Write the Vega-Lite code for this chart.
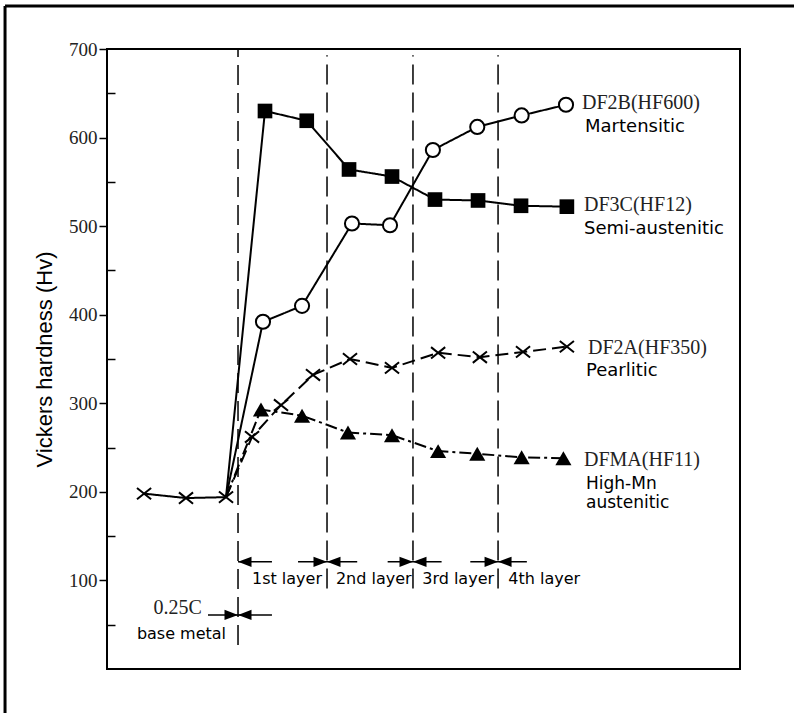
{
  "$schema": "https://vega.github.io/schema/vega-lite/v6.json",
  "width": 633,
  "height": 620,
  "autosize": "none",
  "padding": {"left": 107, "top": 49, "right": 54, "bottom": 44},
  "background": "white",
  "config": {
    "view": {"stroke": "black", "strokeWidth": 2},
    "axis": {"grid": false}
  },
  "datasets": {
    "pts": [
      {"s": "base", "x": -1.08, "y": 198, "m": "x"},
      {"s": "base", "x": -0.598, "y": 193, "m": "x"},
      {"s": "base", "x": -0.138, "y": 194, "m": "x"},
      {"s": "DF2B", "x": -0.138, "y": 194, "m": "none"},
      {"s": "DF2B", "x": 0.287, "y": 392, "m": "o"},
      {"s": "DF2B", "x": 0.736, "y": 410, "m": "o"},
      {"s": "DF2B", "x": 1.31, "y": 503, "m": "o"},
      {"s": "DF2B", "x": 1.747, "y": 501, "m": "o"},
      {"s": "DF2B", "x": 2.24, "y": 586, "m": "o"},
      {"s": "DF2B", "x": 2.75, "y": 612, "m": "o"},
      {"s": "DF2B", "x": 3.26, "y": 625, "m": "o"},
      {"s": "DF2B", "x": 3.77, "y": 637, "m": "o"},
      {"s": "DF3C", "x": -0.138, "y": 194, "m": "none"},
      {"s": "DF3C", "x": 0.31, "y": 630, "m": "sq"},
      {"s": "DF3C", "x": 0.79, "y": 619, "m": "sq"},
      {"s": "DF3C", "x": 1.276, "y": 564, "m": "sq"},
      {"s": "DF3C", "x": 1.77, "y": 556, "m": "sq"},
      {"s": "DF3C", "x": 2.264, "y": 530, "m": "sq"},
      {"s": "DF3C", "x": 2.759, "y": 529, "m": "sq"},
      {"s": "DF3C", "x": 3.253, "y": 523, "m": "sq"},
      {"s": "DF3C", "x": 3.78, "y": 522, "m": "sq"},
      {"s": "DF2A", "x": -0.138, "y": 194, "m": "none"},
      {"s": "DF2A", "x": 0.161, "y": 262, "m": "x"},
      {"s": "DF2A", "x": 0.494, "y": 298, "m": "x"},
      {"s": "DF2A", "x": 0.862, "y": 332, "m": "x"},
      {"s": "DF2A", "x": 1.287, "y": 350, "m": "x"},
      {"s": "DF2A", "x": 1.77, "y": 340, "m": "x"},
      {"s": "DF2A", "x": 2.3, "y": 357, "m": "x"},
      {"s": "DF2A", "x": 2.78, "y": 352, "m": "x"},
      {"s": "DF2A", "x": 3.276, "y": 358, "m": "x"},
      {"s": "DF2A", "x": 3.78, "y": 364, "m": "x"},
      {"s": "DFMA", "x": -0.138, "y": 194, "m": "none"},
      {"s": "DFMA", "x": 0.264, "y": 293, "m": "tri"},
      {"s": "DFMA", "x": 0.736, "y": 286, "m": "tri"},
      {"s": "DFMA", "x": 1.264, "y": 267, "m": "tri"},
      {"s": "DFMA", "x": 1.77, "y": 264, "m": "tri"},
      {"s": "DFMA", "x": 2.3, "y": 246, "m": "tri"},
      {"s": "DFMA", "x": 2.75, "y": 243, "m": "tri"},
      {"s": "DFMA", "x": 3.26, "y": 239, "m": "tri"},
      {"s": "DFMA", "x": 3.74, "y": 238, "m": "tri"}
    ],
    "vlines": [
      {"x": 0, "y1": 27, "y2": 700},
      {"x": 1.023, "y1": 91, "y2": 693},
      {"x": 2.011, "y1": 91, "y2": 693},
      {"x": 2.989, "y1": 91, "y2": 693}
    ],
    "segs": [
      {"x1": 0, "x2": 0.39, "y": 121},
      {"x1": 0.69, "x2": 1.37, "y": 121},
      {"x1": 1.72, "x2": 2.34, "y": 121},
      {"x1": 2.67, "x2": 3.32, "y": 121},
      {"x1": -0.345, "x2": 0.39, "y": 61}
    ],
    "heads": [
      {"x": 0, "y": 121, "d": "L"},
      {"x": 1.023, "y": 121, "d": "R"},
      {"x": 1.023, "y": 121, "d": "L"},
      {"x": 2.011, "y": 121, "d": "R"},
      {"x": 2.011, "y": 121, "d": "L"},
      {"x": 2.989, "y": 121, "d": "R"},
      {"x": 2.989, "y": 121, "d": "L"},
      {"x": 0, "y": 61, "d": "R"},
      {"x": 0, "y": 61, "d": "L"}
    ],
    "frame": [
      {"x1": -2.678, "x2": 6.391, "y1": 748.5, "y2": 748.5},
      {"x1": -2.678, "x2": -2.678, "y1": 748.5, "y2": -50}
    ],
    "serifText": [
      {"t": "DF2B(HF600)", "x": 3.954, "y": 639},
      {"t": "DF3C(HF12)", "x": 3.977, "y": 524},
      {"t": "DF2A(HF350)", "x": 4.023, "y": 362},
      {"t": "DFMA(HF11)", "x": 3.977, "y": 236}
    ],
    "sansText": [
      {"t": "Martensitic", "x": 3.989, "y": 612},
      {"t": "Semi-austenitic", "x": 3.977, "y": 497},
      {"t": "Pearlitic", "x": 4.0, "y": 336}
    ],
    "sansMulti": [
      {"t": ["High-Mn", "austenitic"], "x": 4.0, "y": 209}
    ],
    "layerText": [
      {"t": "1st layer", "x": 0.563, "y": 102},
      {"t": "2nd layer", "x": 1.56, "y": 102},
      {"t": "3rd layer", "x": 2.53, "y": 102},
      {"t": "4th layer", "x": 3.52, "y": 102},
      {"t": "base metal", "x": -0.65, "y": 40}
    ],
    "serifSmall": [
      {"t": "0.25C", "x": -0.695, "y": 69}
    ]
  },
  "encoding": {
    "x": {"type": "quantitative", "scale": {"domain": [-1.506, 5.77], "nice": false, "zero": false}, "axis": null},
    "y": {"type": "quantitative", "scale": {"domain": [0, 700], "nice": false, "zero": false}}
  },
  "layer": [
    {
      "data": {"name": "frame"},
      "mark": {"type": "rule", "color": "black", "strokeWidth": 3},
      "encoding": {
        "x": {"field": "x1", "type": "quantitative"},
        "x2": {"field": "x2"},
        "y": {"field": "y1", "type": "quantitative", "axis": {
          "values": [50, 100, 150, 200, 250, 300, 350, 400, 450, 500, 550, 600, 650, 700],
          "labelExpr": "datum.value % 100 === 0 ? datum.label : ''",
          "tickSize": {"condition": {"test": "datum.value % 100 === 0", "value": 8}, "value": -8},
          "tickColor": "black",
          "tickWidth": 1.5,
          "domain": false,
          "labelFont": "Liberation Serif",
          "labelFontSize": 19,
          "labelColor": "#222222",
          "labelPadding": 2,
          "title": "Vickers hardness (Hv)",
          "titleFont": "Liberation Sans",
          "titleFontSize": 22,
          "titleFontWeight": "normal",
          "titleColor": "black",
          "titlePadding": 12
        }},
        "y2": {"field": "y2"}
      }
    },
    {
      "data": {"name": "vlines"},
      "mark": {"type": "rule", "color": "black", "strokeWidth": 1.5, "strokeDash": [20, 8]},
      "encoding": {
        "x": {"field": "x", "type": "quantitative"},
        "y": {"field": "y1", "type": "quantitative"},
        "y2": {"field": "y2"}
      }
    },
    {
      "data": {"name": "segs"},
      "mark": {"type": "rule", "color": "black", "strokeWidth": 1.5},
      "encoding": {
        "x": {"field": "x1", "type": "quantitative"},
        "x2": {"field": "x2"},
        "y": {"field": "y", "type": "quantitative"}
      }
    },
    {
      "data": {"name": "heads"},
      "mark": {"type": "point", "filled": true, "color": "black", "opacity": 1, "size": 729},
      "encoding": {
        "x": {"field": "x", "type": "quantitative"},
        "y": {"field": "y", "type": "quantitative"},
        "shape": {"field": "d", "type": "nominal", "legend": null, "scale": {"domain": ["L", "R"], "range": ["M0,0L1,-0.38L1,0.38Z", "M0,0L-1,-0.38L-1,0.38Z"]}}
      }
    },
    {
      "data": {"name": "pts"},
      "mark": {"type": "line", "color": "black", "strokeWidth": 2},
      "encoding": {
        "x": {"field": "x", "type": "quantitative"},
        "y": {"field": "y", "type": "quantitative"},
        "detail": {"field": "s"},
        "strokeDash": {"field": "s", "type": "nominal", "legend": null, "scale": {"domain": ["base", "DF2B", "DF3C", "DF2A", "DFMA"], "range": [[1, 0], [1, 0], [1, 0], [13, 6], [12, 4, 3, 4]]}}
      }
    },
    {
      "data": {"name": "pts"},
      "transform": [{"filter": "datum.m === 'o'"}],
      "mark": {"type": "point", "shape": "circle", "filled": false, "fill": "white", "fillOpacity": 1, "stroke": "black", "strokeWidth": 2, "opacity": 1, "size": 200},
      "encoding": {
        "x": {"field": "x", "type": "quantitative"},
        "y": {"field": "y", "type": "quantitative"}
      }
    },
    {
      "data": {"name": "pts"},
      "transform": [{"filter": "datum.m === 'sq'"}],
      "mark": {"type": "point", "shape": "square", "filled": true, "color": "black", "opacity": 1, "size": 215},
      "encoding": {
        "x": {"field": "x", "type": "quantitative"},
        "y": {"field": "y", "type": "quantitative"}
      }
    },
    {
      "data": {"name": "pts"},
      "transform": [{"filter": "datum.m === 'tri'"}],
      "mark": {"type": "point", "shape": "triangle-up", "filled": true, "color": "black", "opacity": 1, "size": 260},
      "encoding": {
        "x": {"field": "x", "type": "quantitative"},
        "y": {"field": "y", "type": "quantitative"}
      }
    },
    {
      "data": {"name": "pts"},
      "transform": [{"filter": "datum.m === 'x'"}],
      "mark": {"type": "point", "shape": "M-1,-0.8L1,0.8M-1,0.8L1,-0.8", "filled": false, "stroke": "black", "strokeWidth": 2, "opacity": 1, "size": 200},
      "encoding": {
        "x": {"field": "x", "type": "quantitative"},
        "y": {"field": "y", "type": "quantitative"}
      }
    },
    {
      "data": {"name": "serifText"},
      "mark": {"type": "text", "align": "left", "baseline": "middle", "font": "Liberation Serif", "fontSize": 20, "color": "#222222"},
      "encoding": {
        "x": {"field": "x", "type": "quantitative"},
        "y": {"field": "y", "type": "quantitative"},
        "text": {"field": "t"}
      }
    },
    {
      "data": {"name": "sansText"},
      "mark": {"type": "text", "align": "left", "baseline": "middle", "font": "DejaVu Sans", "fontSize": 18, "color": "black"},
      "encoding": {
        "x": {"field": "x", "type": "quantitative"},
        "y": {"field": "y", "type": "quantitative"},
        "text": {"field": "t"}
      }
    },
    {
      "data": {"name": "sansMulti"},
      "mark": {"type": "text", "align": "left", "baseline": "middle", "font": "DejaVu Sans", "fontSize": 17, "lineHeight": 19, "color": "black"},
      "encoding": {
        "x": {"field": "x", "type": "quantitative"},
        "y": {"field": "y", "type": "quantitative"},
        "text": {"field": "t"}
      }
    },
    {
      "data": {"name": "layerText"},
      "mark": {"type": "text", "align": "center", "baseline": "middle", "font": "DejaVu Sans", "fontSize": 16, "color": "black"},
      "encoding": {
        "x": {"field": "x", "type": "quantitative"},
        "y": {"field": "y", "type": "quantitative"},
        "text": {"field": "t"}
      }
    },
    {
      "data": {"name": "serifSmall"},
      "mark": {"type": "text", "align": "center", "baseline": "middle", "font": "Liberation Serif", "fontSize": 20, "color": "#222222"},
      "encoding": {
        "x": {"field": "x", "type": "quantitative"},
        "y": {"field": "y", "type": "quantitative"},
        "text": {"field": "t"}
      }
    }
  ]
}
